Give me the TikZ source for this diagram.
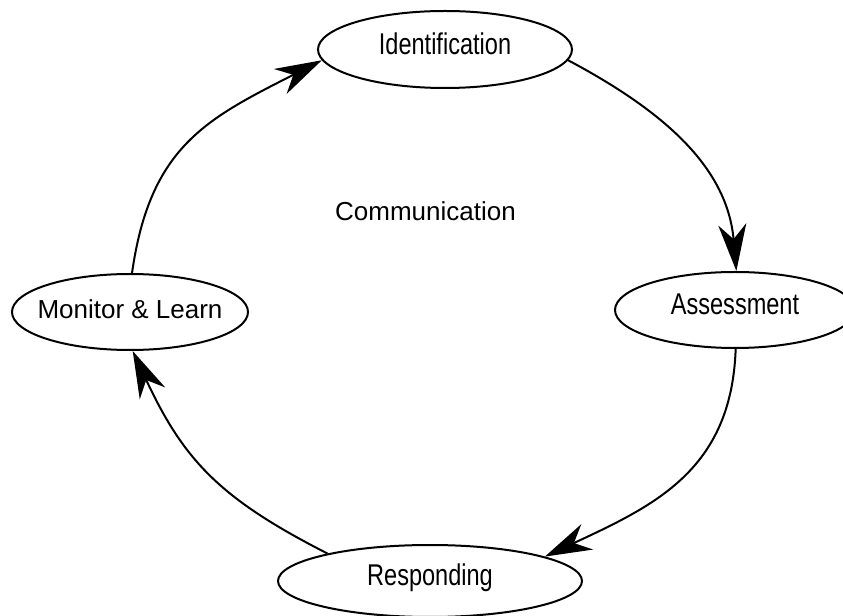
\documentclass[tikz,border=0pt]{standalone}
\usepackage{fontspec}
\setmainfont{Liberation Sans}
\newfontfamily\narrowfont[FakeStretch=0.785]{Liberation Sans}
\usetikzlibrary{shapes.geometric, arrows.meta}

\begin{document}
\begin{tikzpicture}[x=0.75pt, y=-0.75pt,
    stage/.style={draw, ellipse, line width=1.5pt, inner sep=0pt, font=\narrowfont\fontsize{22.5pt}{26pt}\selectfont, text height=16pt, text depth=9pt},
    flow/.style={line width=1.5pt, -{Stealth[length=35pt, width=21pt, inset=11pt]}}]
    \useasboundingbox (0,0) rectangle (843,616);

    \node[stage, minimum width=190.5pt, minimum height=57.75pt] (ident) at (445,49.5) {Identification};
    \node[stage, minimum width=180pt, minimum height=57pt] (assess) at (735,310) {Assessment};
    \node[stage, minimum width=228pt, minimum height=54pt] (resp) at (430,581) {Responding};
    \node[stage, minimum width=177pt, minimum height=57pt, inner xsep=-7pt, font=\fontsize{19.5pt}{23pt}\selectfont, text height=14pt, text depth=4pt] (mon) at (130,312) {Monitor \& Learn};
    \node[font=\fontsize{19.5pt}{23pt}\selectfont] (comm) at (425.5,211) {Communication};

    \draw[flow] (ident.-5) to[out=-28, in=95] (assess.88);
    \draw[flow] (assess.-89) to[out=-92, in=25, looseness=1.1] (resp.12);
    \draw[flow] (resp.165) to[out=153, in=-65, looseness=1.1] (mon.-86);
    \draw[flow] (mon.87) to[out=82, in=-153, looseness=1.15] (ident.185);

\end{tikzpicture}
\end{document}
